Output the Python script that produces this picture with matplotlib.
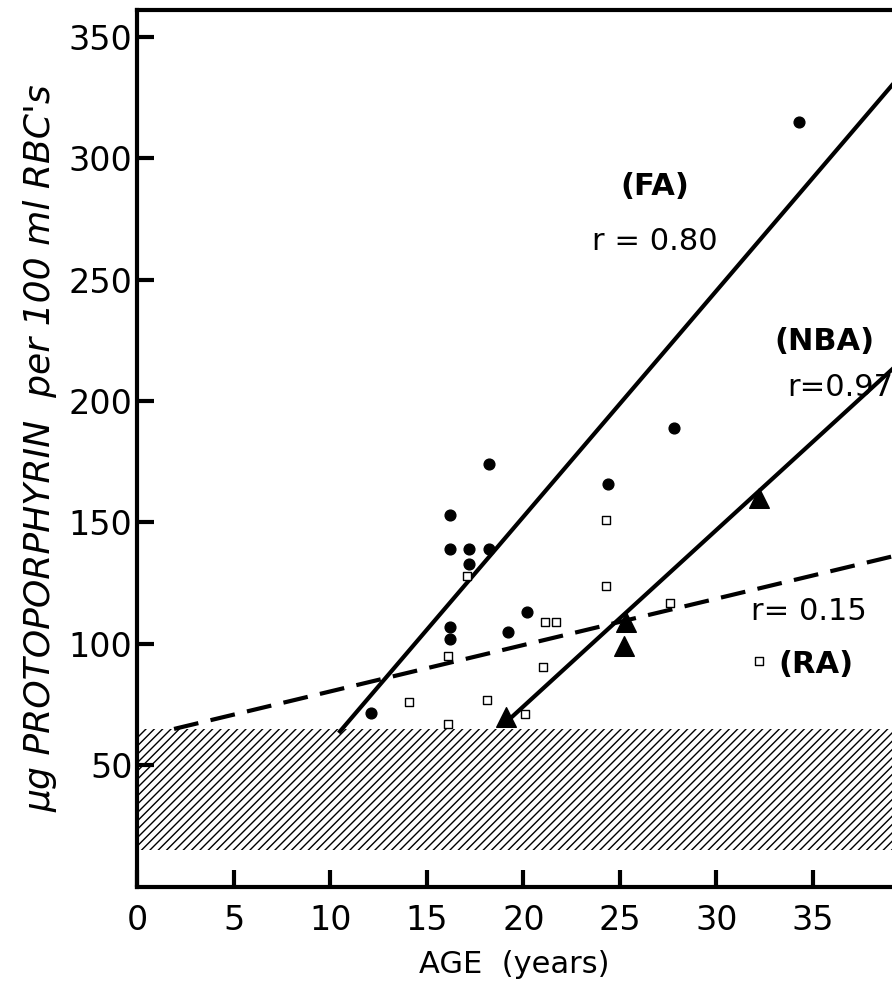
import matplotlib
matplotlib.use("Agg")
import matplotlib.pyplot as plt
import numpy as np

fa_x = [12.1, 16.2, 16.2, 16.2, 16.2, 17.2, 17.2, 18.2, 18.2, 19.2, 20.2, 24.4, 27.8, 34.3]
fa_y = [71.6, 153, 139, 107, 102, 139, 133, 139, 174, 105, 113, 166, 189, 315]
ra_x = [14.1, 16.1, 16.1, 17.1, 18.1, 20.1, 21.1, 21.7, 21.0, 24.3, 24.3, 27.6]
ra_y = [76, 67, 95, 128, 77, 71, 109, 109, 90.5, 151, 124, 117]
nba_x = [19.1, 25.2, 25.3, 32.2]
nba_y = [70, 99, 109, 160]
fa_line_x = [10.5, 39.1]; fa_line_y = [64, 330]
nba_line_x = [19.0, 39.1]; nba_line_y = [67, 213]
ra_line_x = [1.9, 39.1]; ra_line_y = [65, 136]
xticks = [0, 5, 10, 15, 20, 25, 30, 35]
yticks = [50, 100, 150, 200, 250, 300, 350]

plt.rcParams['font.family'] = ['DejaVu Sans']
plt.rcParams['hatch.linewidth'] = 1.0
fig = plt.figure(figsize=(8.92, 9.92), dpi=100)
ax = fig.add_axes([0.154, 0.106, 0.846, 0.884])
ax.set_xlim(0, 39.1)
ax.set_ylim(0, 361)

ax.fill_between([0, 39.1], 15, 65, facecolor='white', edgecolor='black', hatch='////', linewidth=0)
ax.plot(fa_line_x, fa_line_y, color='black', lw=3)
ax.plot(nba_line_x, nba_line_y, color='black', lw=3)
ax.plot(ra_line_x, ra_line_y, color='black', lw=3, dashes=(6, 3))
ax.scatter(fa_x, fa_y, s=60, color='black', zorder=5)
ax.scatter(ra_x, ra_y, s=40, marker='s', facecolor='white', edgecolor='black', lw=1, zorder=5)
ax.scatter(nba_x, nba_y, s=200, marker='^', color='black', zorder=5)

ax.text(26.8, 285, '(FA)', fontsize=22, fontweight='bold', ha='center')
ax.text(26.8, 262, 'r = 0.80', fontsize=22, ha='center')
ax.text(35.6, 221, '(NBA)', fontsize=22, fontweight='bold', ha='center')
ax.text(36.4, 202, 'r=0.97', fontsize=22, ha='center')
ax.text(34.8, 110, 'r= 0.15', fontsize=22, ha='center')
ax.scatter([32.2], [93], s=40, marker='s', facecolor='white', edgecolor='black', lw=1, zorder=5)
ax.text(33.2, 88, '(RA)', fontsize=22, fontweight='bold', ha='left')

for s in ['left', 'bottom', 'top']:
    ax.spines[s].set_linewidth(3)
ax.spines['right'].set_visible(False)
ax.set_xticks(xticks)
ax.set_yticks(yticks)
ax.tick_params(axis='both', direction='in', length=12, width=3, labelsize=24)
ax.tick_params(axis='x', pad=12)
ax.set_xlabel('AGE  (years)', fontsize=22, labelpad=10)
ax.set_ylabel("μg PROTOPORPHYRIN  per 100 ml RBC's", fontsize=26, style='italic', labelpad=8)
fig.savefig('out.png', dpi=100)
